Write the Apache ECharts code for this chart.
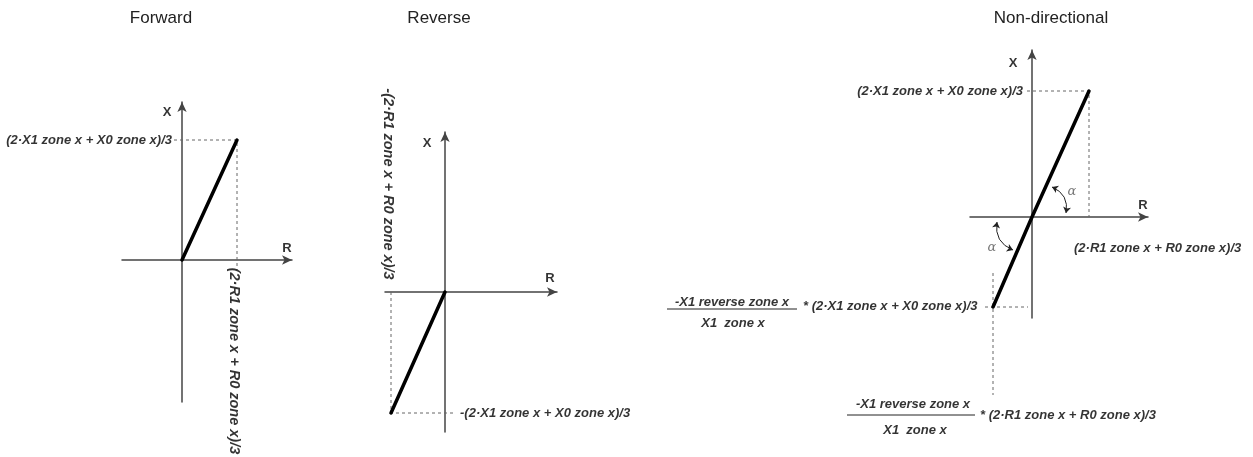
<!DOCTYPE html>
<html>
<head>
<meta charset="utf-8">
<script src="https://cdn.jsdelivr.net/npm/echarts@6/dist/echarts.min.js"></script>
<style>html,body{margin:0;padding:0;background:#fff}#c{width:1253px;height:457px}</style>
</head>
<body>
<div id="c"></div>
<script>
// ---- data (R, X in diagram units) ----
const panelTitles = ['Forward', 'Reverse', 'Non-directional'];

// characteristic lines
const forwardLine = [[0, 0], [55, 120]];
const reverseLine = [[0, 0], [-54, -121]];
const nondirLine = [[-39, -90], [0, 0], [57, 126]];

// dashed projection guides
const forwardGuide = [[-8, 120], [55, 120], [55, -10]];
const reverseGuide = [[8, -121], [-54, -121], [-54, 3]];
const nondirGuideTop = [[-5, 126], [57, 126], [57, 0]];
const nondirGuideBottomH = [[-47, -90], [-4, -90]];
const nondirGuideBottomV = [[-39, -56], [-39, -178]];

// fraction bars
const nondirFractionLeft = [[-365, -92], [-235, -92]];
const nondirFractionBottom = [[-185, -198], [-57, -198]];

// angle arcs (alpha): [from, to]
const alphaArcs = [[[20, 30], [34, 4]], [[-19, -33], [-35, -5]]];

// axis extents [xmin, xmax, ymin, ymax]
const forwardExtent = [-60, 110, -142, 158];
const reverseExtent = [-60, 112, -140, 160];
const nondirExtent = [-62, 116, -101, 167];
const nondirWideExtent = [-462, 116, -233, 167];

// label texts
const reachX = '(2·X1 zone x + X0 zone x)/3';
const reachR = '(2·R1 zone x + R0 zone x)/3';
const revNum = '-X1 reverse zone x';
const revDen = 'X1  zone x';

// label anchors
const forwardLabelTexts = ['X', 'R', reachX, reachR];
const forwardLabelPos = [[-15, 148], [105, 12], [-10, 120], [52, -101]];
const reverseLabelTexts = ['X', 'R', '-' + reachX, '-' + reachR];
const reverseLabelPos = [[-18, 149], [105, 14], [15, -121], [-57, 108]];
const nondirLabelTexts = ['X', 'R', reachX, reachR, revNum, revDen, '* ' + reachX, revNum, revDen, '* ' + reachR, 'α', 'α'];
const nondirLabelPos = [[-19, 154], [111, 12], [-9, 126], [42, -31], [-300, -85], [-299, -106], [-229, -89], [-119, -187], [-117, -213], [-52, -198], [40, 25], [-40, -31]];

// ---- styles ----
const FONT = 'Liberation Sans, Arial, sans-serif';
const axisCol = '#444';
const baseLbl = {textBorderWidth: 0, textShadowBlur: 0, color: '#000'};
const formulaStyle = Object.assign({fontFamily: FONT, fontWeight: 'bold', fontStyle: 'italic', fontSize: 13}, baseLbl);
const letterStyle = Object.assign({fontFamily: FONT, fontWeight: 'bold', fontSize: 13}, baseLbl);
const alphaStyle = Object.assign({}, baseLbl, {fontFamily: 'DejaVu Serif, serif', fontStyle: 'italic', fontSize: 13, color: '#555'});

const grids = [
  {left: 122, top: 102, width: 170, height: 300},
  {left: 385, top: 132, width: 172, height: 300},
  {left: 970, top: 50, width: 178, height: 268},
  {left: 570, top: 50, width: 578, height: 400}
];
const extents = [forwardExtent, reverseExtent, nondirExtent, nondirWideExtent];

function axisCommon(show) {
  return {
    type: 'value', show: show,
    axisLine: {show: true, onZero: true, symbol: ['none', 'arrow'], symbolSize: [7, 10], lineStyle: {color: axisCol, width: 1.5}},
    axisTick: {show: false}, axisLabel: {show: false}, splitLine: {show: false}
  };
}
const xAxes = extents.map((e, i) => Object.assign(axisCommon(i < 3), {gridIndex: i, min: e[0], max: e[1]}));
const yAxes = extents.map((e, i) => Object.assign(axisCommon(i < 3), {gridIndex: i, min: e[2], max: e[3]}));

function mainLine(i, data) {
  return {type: 'line', xAxisIndex: i, yAxisIndex: i, data: data, symbol: 'none', clip: false,
    lineStyle: {color: '#000', width: 3.5, cap: 'round'}, silent: true, z: 5};
}
function dashed(i, data) {
  return {type: 'line', xAxisIndex: i, yAxisIndex: i, data: data, symbol: 'none', clip: false,
    lineStyle: {color: '#666', width: 1, type: [3, 3]}, silent: true, z: 1};
}
function solidThin(i, data) {
  return {type: 'line', xAxisIndex: i, yAxisIndex: i, data: data, symbol: 'none', clip: false,
    lineStyle: {color: '#222', width: 1}, silent: true};
}
function labelItem(text, pos, opt) {
  const st = text === 'α' ? alphaStyle : (text.length <= 1 ? letterStyle : formulaStyle);
  return {value: pos, name: text, label: Object.assign({}, st, {align: 'center', verticalAlign: 'middle'}, opt || {})};
}
function labels(i, texts, positions, opts) {
  return {type: 'scatter', xAxisIndex: i, yAxisIndex: i, symbolSize: 0, clip: false, silent: true,
    itemStyle: {color: 'transparent'},
    data: texts.map((t, k) => labelItem(t, positions[k], opts[k])),
    label: {show: true, position: 'inside', formatter: p => p.name}};
}

const rot = {rotate: -90, fontSize: 14.5};
const series = [
  dashed(0, forwardGuide), mainLine(0, forwardLine),
  labels(0, forwardLabelTexts, forwardLabelPos, [null, null, {align: 'right'}, rot]),
  dashed(1, reverseGuide), mainLine(1, reverseLine),
  labels(1, reverseLabelTexts, reverseLabelPos, [null, null, {align: 'left'}, rot]),
  dashed(2, nondirGuideTop), dashed(2, nondirGuideBottomH), dashed(2, nondirGuideBottomV),
  solidThin(3, nondirFractionLeft), solidThin(3, nondirFractionBottom),
  mainLine(2, nondirLine),
  {type: 'lines', coordinateSystem: 'cartesian2d', xAxisIndex: 2, yAxisIndex: 2, silent: true,
    symbol: ['arrow', 'arrow'], symbolSize: 6, clip: false,
    lineStyle: {color: '#222', width: 1, curveness: 0.4, opacity: 1},
    data: alphaArcs.map(a => ({coords: a}))},
  labels(2, nondirLabelTexts, nondirLabelPos, [null, null, {align: 'right'}, {align: 'left'}, null, null, {align: 'left'}, null, null, {align: 'left'}, null, null])
];

const titleCenters = [[161, 18], [439, 18], [1051, 18]];
const chart = echarts.init(document.getElementById('c'), null, {renderer: 'canvas'});
chart.setOption({
  animation: false,
  backgroundColor: '#fff',
  grid: grids,
  xAxis: xAxes,
  yAxis: yAxes,
  series: series,
  graphic: panelTitles.map((t, i) => ({type: 'text', x: titleCenters[i][0], y: titleCenters[i][1],
    style: {text: t, align: 'center', verticalAlign: 'middle', font: '17px ' + FONT, fill: '#222'}}))
});
</script>
</body>
</html>
